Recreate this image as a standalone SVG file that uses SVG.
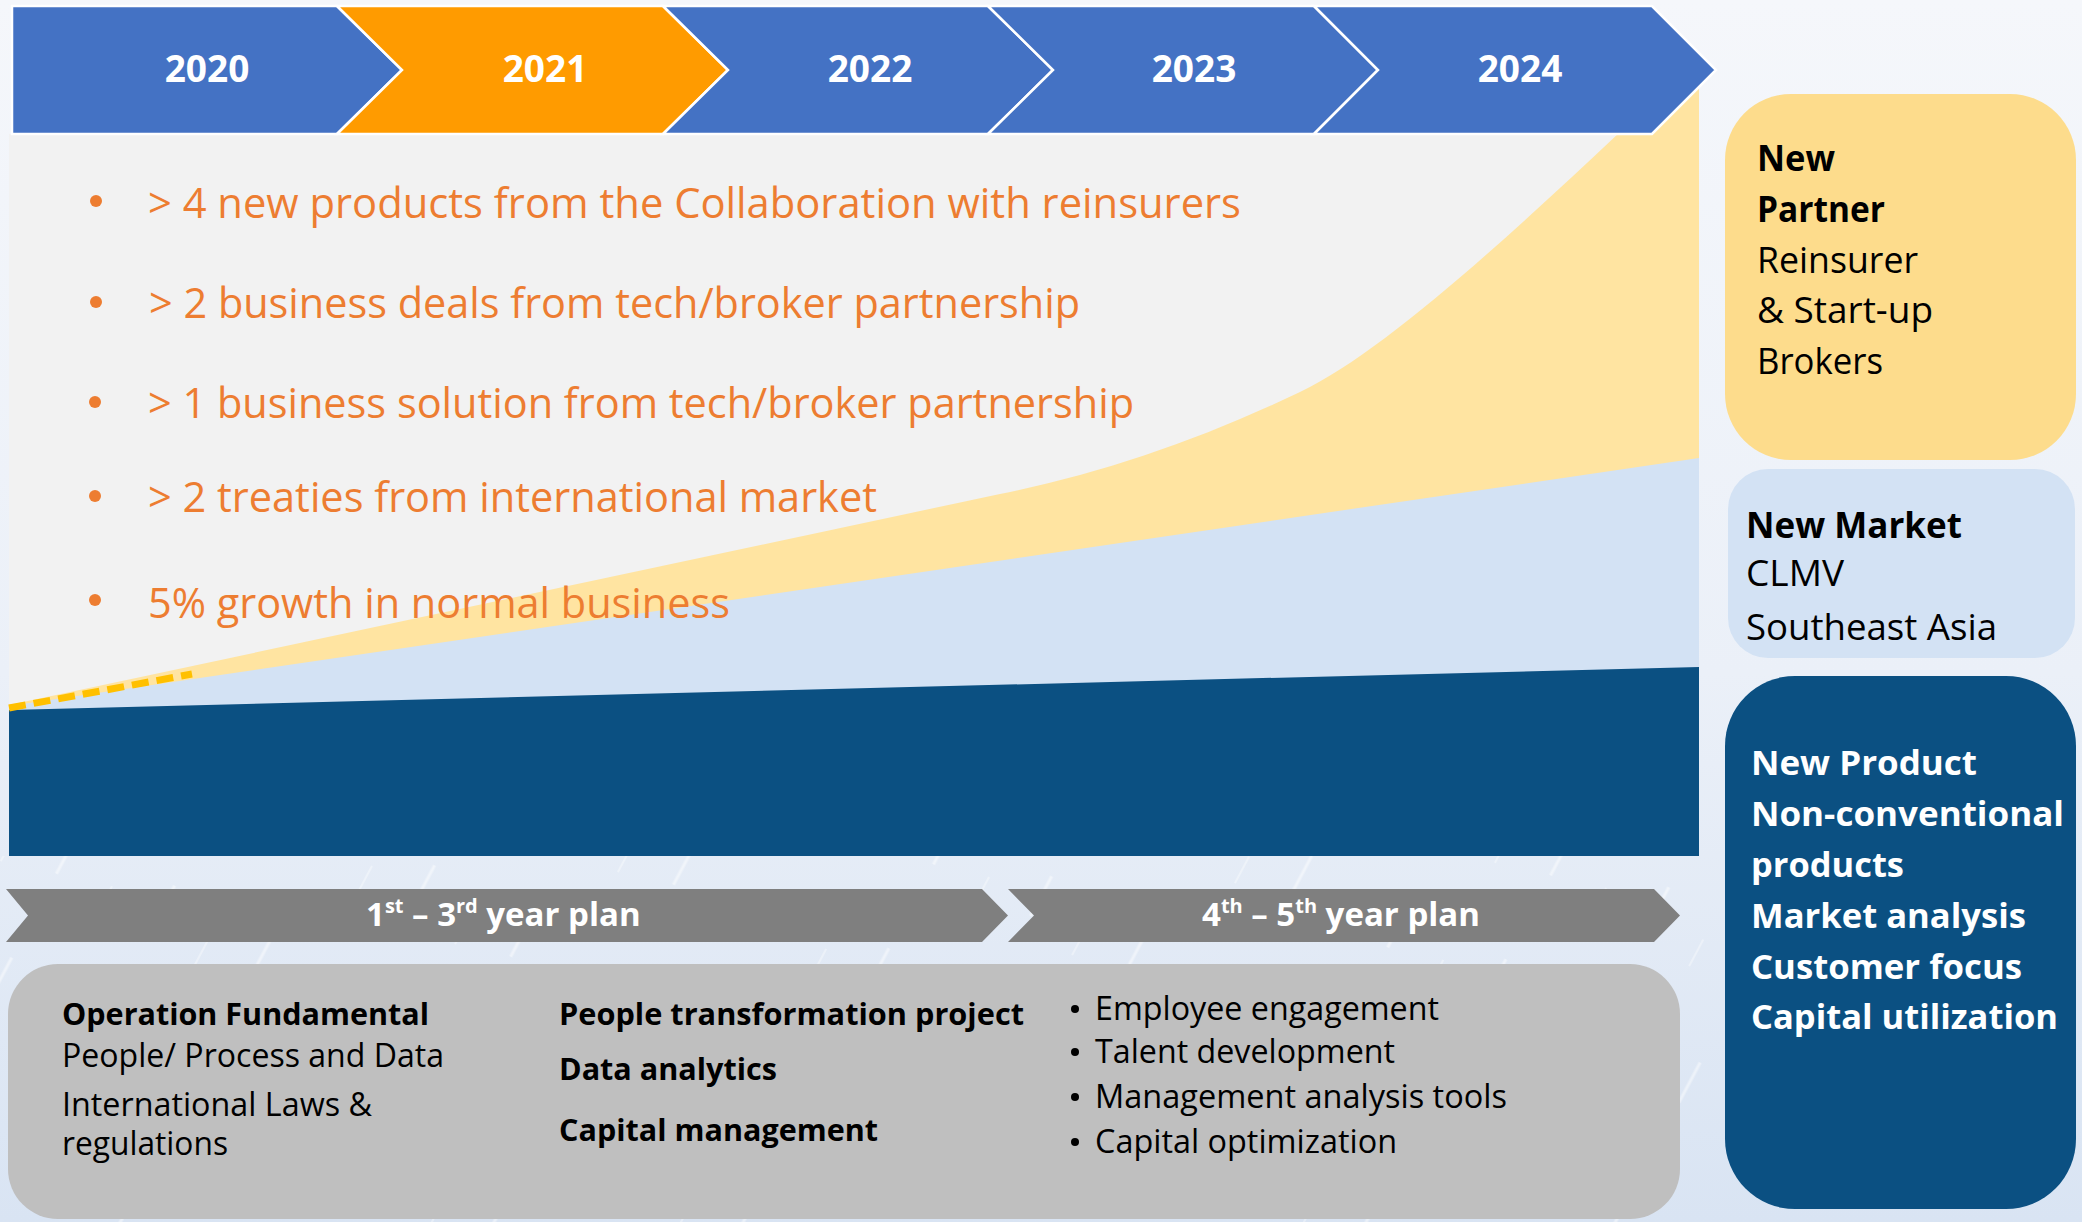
<svg xmlns="http://www.w3.org/2000/svg" width="2082" height="1222" viewBox="0 0 2082 1222">
  <defs>
    <linearGradient id="pageBg" x1="0" y1="0" x2="0" y2="1">
      <stop offset="0" stop-color="#F5F7FB"/>
      <stop offset="0.55" stop-color="#EBF0F8"/>
      <stop offset="1" stop-color="#D9E4F3"/>
    </linearGradient>
    <pattern id="streaks" width="110" height="140" patternUnits="userSpaceOnUse" patternTransform="rotate(28)">
      <line x1="20" y1="0" x2="20" y2="140" stroke="#FFFFFF" stroke-width="3" stroke-dasharray="45 95" opacity="0.45"/>
      <line x1="75" y1="30" x2="75" y2="170" stroke="#FFFFFF" stroke-width="2" stroke-dasharray="30 110" opacity="0.35"/>
    </pattern>
    <style>
      text { font-family: "Open Sans", "Noto Sans", "DejaVu Sans", sans-serif; }
      .year { font-size: 37px; font-weight: 700; fill: #FFFFFF; text-anchor: middle; }
      .goal { font-size: 42px; fill: #ED7D31; }
      .dot { fill: #ED7D31; }
      .plan { font-size: 33px; font-weight: 700; fill: #FFFFFF; }
      .sup { font-size: 20px; }
      .grey-b { font-size: 31px; font-weight: 700; fill: #000000; }
      .grey-r { font-size: 32px; fill: #000000; }
      .side-b { font-size: 36px; font-weight: 700; fill: #000000; }
      .side-r { font-size: 36px; fill: #000000; }
      .prod { font-size: 34px; font-weight: 700; fill: #FFFFFF; }
      .chev { stroke: #FFFFFF; stroke-width: 2.5; stroke-linejoin: miter; }
    </style>
  </defs>

  <!-- page background -->
  <rect x="0" y="0" width="2082" height="1222" fill="url(#pageBg)"/>
  <rect x="0" y="856" width="1720" height="366" fill="url(#streaks)"/>

  <!-- growth chart -->
  <g id="chart">
    <rect x="9" y="134" width="1690" height="722" fill="#F2F2F2"/>
    <path id="partner-area" d="M9,705 L1000,494 C1100,474 1200,440 1300,392 C1380,354 1500,245 1620,132 L1699,58 L1699,856 L9,856 Z" fill="#FFE4A1"/>
    <path id="market-area" d="M9,706 L1699,458 L1699,856 L9,856 Z" fill="#D3E2F4"/>
    <path id="product-area" d="M9,710 L1699,667 L1699,856 L9,856 Z" fill="#0B5082"/>
    <line x1="9" y1="708" x2="192" y2="674" stroke="#FFC000" stroke-width="7" stroke-dasharray="17 8"/>
  </g>

  <!-- year timeline -->
  <g id="timeline">
    <g id="y2020">
      <path class="chev" d="M12,6 L337,6 L402,70 L337,134 L12,134 Z" fill="#4472C4"/>
      <text class="year" x="207" y="82">2020</text>
    </g>
    <g id="y2021">
      <path class="chev" d="M337,6 L663,6 L728,70 L663,134 L337,134 L402,70 Z" fill="#FF9B00"/>
      <text class="year" x="545" y="82">2021</text>
    </g>
    <g id="y2022">
      <path class="chev" d="M663,6 L988,6 L1053,70 L988,134 L663,134 L728,70 Z" fill="#4472C4"/>
      <text class="year" x="870" y="82">2022</text>
    </g>
    <g id="y2023">
      <path class="chev" d="M988,6 L1314,6 L1378,70 L1314,134 L988,134 L1053,70 Z" fill="#4472C4"/>
      <text class="year" x="1194" y="82">2023</text>
    </g>
    <g id="y2024">
      <path class="chev" d="M1314,6 L1652,6 L1716,70 L1652,134 L1314,134 L1378,70 Z" fill="#4472C4"/>
      <text class="year" x="1520" y="82">2024</text>
    </g>
  </g>

  <!-- targets -->
  <g id="targets">
    <circle class="dot" cx="96" cy="201" r="6"/>
    <text class="goal" x="148" y="218" textLength="1093" lengthAdjust="spacingAndGlyphs">&gt; 4 new products from the Collaboration with reinsurers</text>
    <circle class="dot" cx="96" cy="302" r="6"/>
    <text class="goal" x="149" y="318" textLength="931" lengthAdjust="spacingAndGlyphs">&gt; 2 business deals from tech/broker partnership</text>
    <circle class="dot" cx="95" cy="402" r="6"/>
    <text class="goal" x="148" y="418" textLength="986" lengthAdjust="spacingAndGlyphs">&gt; 1 business solution from tech/broker partnership</text>
    <circle class="dot" cx="95" cy="496" r="6"/>
    <text class="goal" x="148" y="512" textLength="729" lengthAdjust="spacingAndGlyphs">&gt; 2 treaties from international market</text>
    <circle class="dot" cx="95" cy="600" r="6"/>
    <text class="goal" x="148" y="618" textLength="582" lengthAdjust="spacingAndGlyphs">5% growth in normal business</text>
  </g>

  <!-- plan phases -->
  <g id="phase-1-3">
    <path d="M6,889 L982,889 L1008,915.5 L982,942 L6,942 L28,915.5 Z" fill="#7F7F7F"/>
    <text class="plan" x="366" y="926">1<tspan class="sup" dy="-13">st</tspan><tspan dy="13"> – 3</tspan><tspan class="sup" dy="-13">rd</tspan><tspan dy="13"> year plan</tspan></text>
  </g>
  <g id="phase-4-5">
    <path d="M1008,889 L1654,889 L1680,915.5 L1654,942 L1008,942 L1034,915.5 Z" fill="#7F7F7F"/>
    <text class="plan" x="1202" y="926">4<tspan class="sup" dy="-13">th</tspan><tspan dy="13"> – 5</tspan><tspan class="sup" dy="-13">th</tspan><tspan dy="13"> year plan</tspan></text>
  </g>

  <!-- foundations -->
  <g id="foundations">
    <rect x="8" y="964" width="1672" height="255" rx="50" ry="50" fill="#BFBFBF"/>
    <text class="grey-b" x="62" y="1025" textLength="367" lengthAdjust="spacingAndGlyphs">Operation Fundamental</text>
    <text class="grey-r" x="62" y="1067" textLength="382" lengthAdjust="spacingAndGlyphs">People/ Process and Data</text>
    <text class="grey-r" x="62" y="1116" textLength="310" lengthAdjust="spacingAndGlyphs">International Laws &amp;</text>
    <text class="grey-r" x="62" y="1155" textLength="166" lengthAdjust="spacingAndGlyphs">regulations</text>
    <text class="grey-b" x="559" y="1025" textLength="465" lengthAdjust="spacingAndGlyphs">People transformation project</text>
    <text class="grey-b" x="559" y="1080" textLength="218" lengthAdjust="spacingAndGlyphs">Data analytics</text>
    <text class="grey-b" x="559" y="1141" textLength="319" lengthAdjust="spacingAndGlyphs">Capital management</text>
    <circle cx="1075" cy="1009" r="4" fill="#000000"/>
    <text class="grey-r" x="1095" y="1020" textLength="344" lengthAdjust="spacingAndGlyphs">Employee engagement</text>
    <circle cx="1075" cy="1052" r="4" fill="#000000"/>
    <text class="grey-r" x="1095" y="1063" textLength="300" lengthAdjust="spacingAndGlyphs">Talent development</text>
    <circle cx="1075" cy="1097" r="4" fill="#000000"/>
    <text class="grey-r" x="1095" y="1108" textLength="412" lengthAdjust="spacingAndGlyphs">Management analysis tools</text>
    <circle cx="1075" cy="1142" r="4" fill="#000000"/>
    <text class="grey-r" x="1095" y="1153" textLength="302" lengthAdjust="spacingAndGlyphs">Capital optimization</text>
  </g>

  <!-- growth drivers -->
  <g id="new-partner">
    <rect x="1725" y="94" width="351" height="366" rx="66" ry="66" fill="#FDDC8C"/>
    <text class="side-b" x="1757" y="171" textLength="78" lengthAdjust="spacingAndGlyphs">New</text>
    <text class="side-b" x="1757" y="222" textLength="128" lengthAdjust="spacingAndGlyphs">Partner</text>
    <text class="side-r" x="1757" y="273" textLength="161" lengthAdjust="spacingAndGlyphs">Reinsurer</text>
    <text class="side-r" x="1757" y="323" textLength="176" lengthAdjust="spacingAndGlyphs">&amp; Start-up</text>
    <text class="side-r" x="1757" y="374" textLength="126" lengthAdjust="spacingAndGlyphs">Brokers</text>
  </g>
  <g id="new-market">
    <rect x="1728" y="469" width="347" height="189" rx="40" ry="40" fill="#D3E2F4"/>
    <text class="side-b" x="1746" y="538" textLength="216" lengthAdjust="spacingAndGlyphs">New Market</text>
    <text class="side-r" x="1746" y="586" textLength="98" lengthAdjust="spacingAndGlyphs">CLMV</text>
    <text class="side-r" x="1746" y="640" textLength="251" lengthAdjust="spacingAndGlyphs">Southeast Asia</text>
  </g>
  <g id="new-product">
    <rect x="1725" y="676" width="351" height="533" rx="70" ry="70" fill="#0B5082"/>
    <text class="prod" x="1751" y="775" textLength="226" lengthAdjust="spacingAndGlyphs">New Product</text>
    <text class="prod" x="1751" y="826" textLength="313" lengthAdjust="spacingAndGlyphs">Non-conventional</text>
    <text class="prod" x="1751" y="877" textLength="153" lengthAdjust="spacingAndGlyphs">products</text>
    <text class="prod" x="1751" y="928" textLength="275" lengthAdjust="spacingAndGlyphs">Market analysis</text>
    <text class="prod" x="1751" y="979" textLength="271" lengthAdjust="spacingAndGlyphs">Customer focus</text>
    <text class="prod" x="1751" y="1029" textLength="307" lengthAdjust="spacingAndGlyphs">Capital utilization</text>
  </g>

  <g id="connectors"/>
</svg>
